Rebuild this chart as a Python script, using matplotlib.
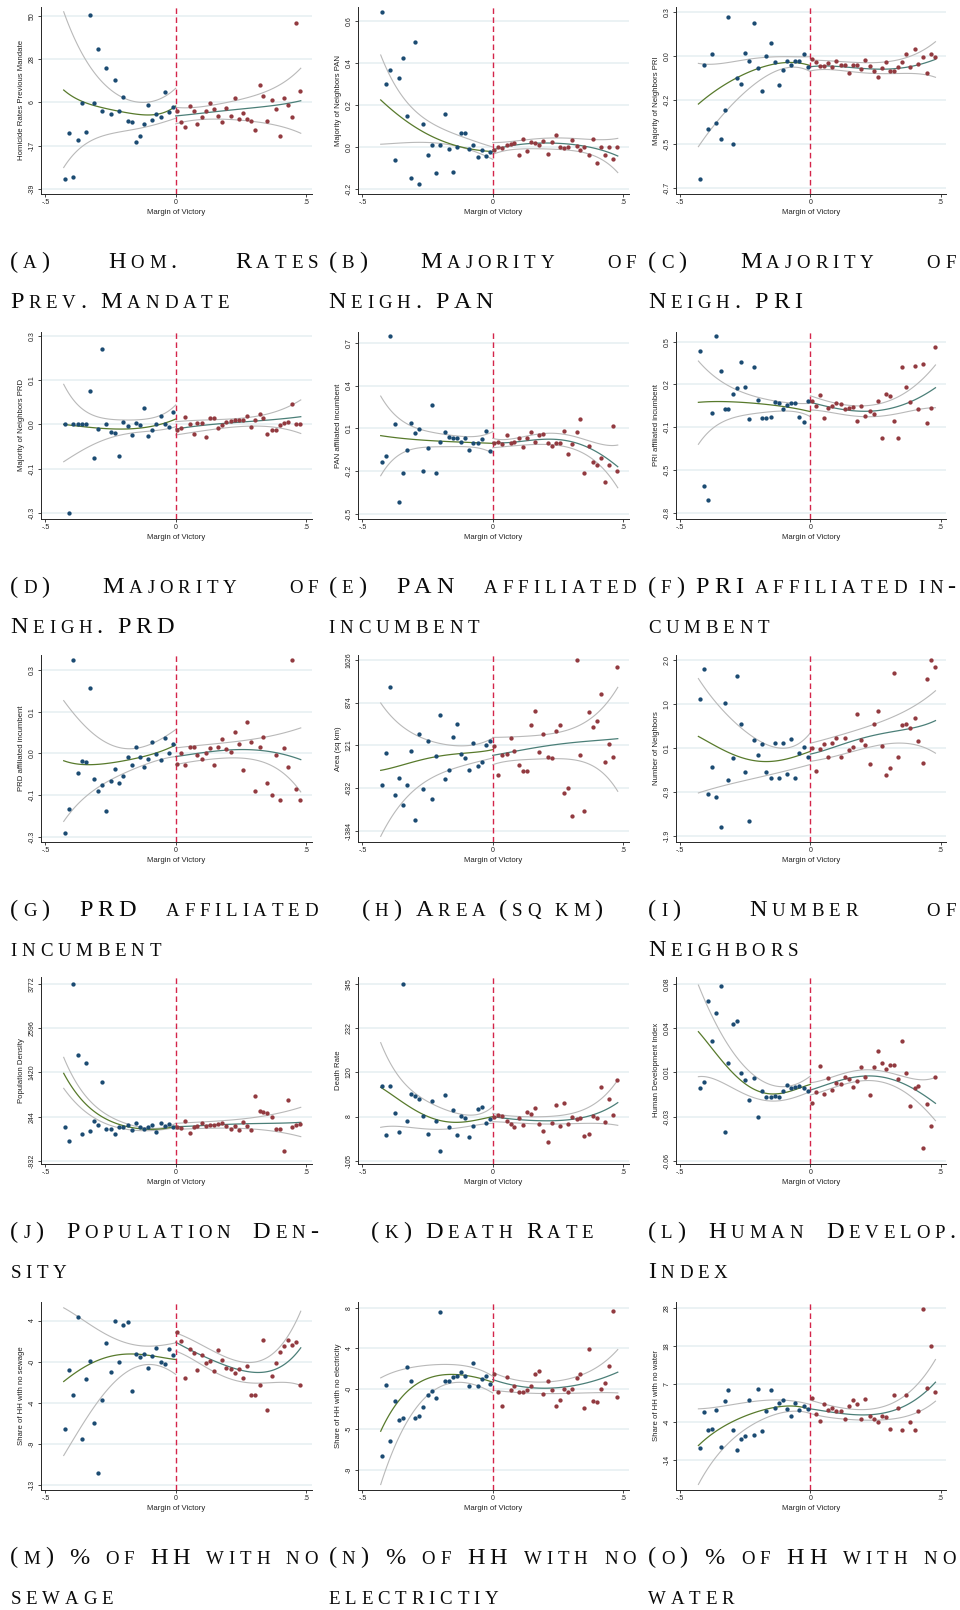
"""Binned RD scatter grid: 15 pre-treatment covariates against margin of victory,
with polynomial fits and CIs on each side of the cutoff, plus LaTeX-style
small-caps subcaptions under every panel.
"""

import numpy as np
import matplotlib
matplotlib.use("Agg")
import matplotlib.pyplot as plt

W_PX, H_PX = 960, 1610

# bin centres of the running variable (shared by every panel)
LEFT_BINS = [-0.424, -0.410, -0.394, -0.377, -0.361, -0.345, -0.329, -0.315, -0.299,
             -0.282, -0.266, -0.250, -0.234, -0.218, -0.201, -0.185, -0.169, -0.153,
             -0.137, -0.120, -0.106, -0.090, -0.074, -0.058, -0.042, -0.025, -0.009]
RIGHT_BINS = [0.005, 0.021, 0.037, 0.053, 0.069, 0.083, 0.100, 0.116, 0.132, 0.148,
              0.162, 0.178, 0.194, 0.211, 0.227, 0.243, 0.259, 0.273, 0.289, 0.306,
              0.322, 0.336, 0.352, 0.368, 0.384, 0.400, 0.414, 0.431, 0.447, 0.463, 0.479]
FIT_X_LEFT = [-0.43, -0.32, -0.21, -0.10, 0.0]
FIT_X_RIGHT = [0.0, 0.12, 0.24, 0.36, 0.48]

# (a) homicide rates previous mandate
a_blue = [-33.9, -10.4, -32.7, -14.0, 5.3, -9.6, 50.3, 5.0, 32.7, 0.9, 23.0, -0.7, 17.0, 1.0,
          8.1, -3.9, -4.8, -14.7, -11.8, -5.5, 4.0, -3.8, -0.7, -2.0, 10.8, 0.5, 3.1]
a_red = [0.9, -4.8, -7.4, 3.6, 0.9, -5.7, -1.9, 0.9, 5.1, 1.9, -1.5, -4.8, 2.7, -1.4, 7.9, -3.1,
         0.0, -3.1, -3.9, -8.7, 14.4, 8.7, -3.9, 6.7, 1.9, -12.0, 7.5, 4.0, -1.9, 46.1, 11.5]
a_fit_l, a_lo_l, a_hi_l = [11.8, 4.1, 0.7, -1.0, 3.6], [-28.0, -13.9, -9.6, -6.7, -2.7], [52.0, 22.1, 8.4, 5.7, 12.7]
a_fit_r, a_lo_r, a_hi_r = [-1.5, 0.2, 1.9, 3.6, 6.3], [-5.6, -3.2, -3.6, -5.6, -10.4], [2.9, 3.6, 6.7, 11.8, 23.0]

# (b) majority of neighbors PAN
b_blue = [0.644, 0.302, 0.365, -0.062, 0.330, 0.422, 0.148, -0.149, 0.502, -0.178, 0.111, -0.040,
          0.011, -0.125, 0.011, 0.159, -0.008, -0.120, 0.0, 0.068, 0.068, -0.008, 0.010, -0.048,
          -0.014, -0.044, -0.022]
b_red = [-0.014, 0.002, -0.005, 0.008, 0.016, 0.019, -0.036, 0.040, -0.021, 0.025, 0.018, 0.008,
         0.029, -0.035, 0.025, 0.057, 0.0, -0.005, 0.0, 0.035, 0.005, -0.014, 0.0, -0.038, 0.040,
         -0.078, 0.0, -0.038, 0.002, -0.059, 0.002]
b_fit_l, b_lo_l, b_hi_l = [0.224, 0.113, 0.037, -0.006, -0.022], [0.013, 0.021, 0.018, -0.009, -0.059], [0.438, 0.200, 0.097, 0.041, 0.0]
b_fit_r, b_lo_r, b_hi_r = [-0.014, 0.014, 0.018, 0.002, -0.043], [-0.035, -0.009, -0.011, -0.030, -0.122], [0.021, 0.033, 0.043, 0.037, 0.041]

# (c) majority of neighbors PRI
c_blue = [-0.645, 0.001, -0.365, 0.065, -0.329, -0.422, -0.257, 0.272, -0.450, -0.071, -0.107,
          0.069, 0.022, 0.241, -0.016, -0.149, 0.052, 0.126, 0.018, -0.115, -0.026, 0.022, 0.001,
          0.025, 0.025, 0.065, -0.009]
c_red = [0.033, 0.016, -0.005, -0.005, 0.010, -0.012, 0.025, -0.001, 0.001, -0.045, 0.001, -0.001,
         -0.022, 0.029, -0.005, -0.031, -0.069, -0.018, 0.016, -0.031, -0.031, -0.009, 0.018, 0.063,
         -0.012, 0.090, 0.006, 0.048, -0.047, 0.061, 0.044]
c_fit_l, c_lo_l, c_hi_l = [-0.221, -0.103, -0.024, 0.014, -0.003], [-0.463, -0.255, -0.103, -0.018, -0.037], [0.010, 0.014, 0.039, 0.048, 0.048]
c_fit_r, c_lo_r, c_hi_r = [-0.009, -0.009, -0.022, -0.014, 0.033], [-0.033, -0.031, -0.047, -0.047, -0.069], [0.029, 0.020, 0.014, 0.039, 0.133]

# (d) majority of neighbors PRD
d_blue = [0.0, -0.300, 0.0, 0.0, 0.0, 0.0, 0.113, -0.115, -0.017, 0.256, 0.0, -0.025, -0.028,
          -0.106, 0.009, -0.005, -0.036, 0.003, -0.002, 0.057, -0.040, -0.019, 0.0, 0.029, 0.0,
          -0.008, 0.041]
d_red = [-0.019, -0.014, 0.026, 0.0, -0.032, 0.003, 0.003, -0.042, 0.023, 0.021, -0.014, -0.002,
         0.007, 0.011, 0.014, 0.016, 0.016, 0.027, -0.008, 0.016, 0.034, 0.023, -0.032, -0.020,
         -0.020, -0.002, 0.003, 0.007, 0.070, 0.0, 0.0]
d_fit_l, d_lo_l, d_hi_l = [0.0, -0.011, -0.016, -0.008, 0.018], [-0.127, -0.070, -0.036, -0.023, -0.008], [0.136, 0.032, 0.015, 0.020, 0.066]
d_fit_r, d_lo_r, d_hi_r = [-0.016, -0.002, 0.007, 0.015, 0.026], [-0.036, -0.020, -0.008, -0.008, -0.031], [0.009, 0.015, 0.020, 0.037, 0.083]

# (e) PAN affiliated incumbent
e_blue = [-0.134, -0.094, 0.747, 0.128, -0.418, -0.215, -0.050, 0.135, 0.070, 0.098, -0.199,
          -0.038, 0.263, -0.211, 0.002, 0.074, 0.042, 0.035, 0.035, 0.007, 0.035, -0.050, -0.005,
          -0.005, 0.023, 0.081, -0.059]
e_red = [-0.005, 0.002, -0.010, 0.053, -0.005, 0.002, 0.030, -0.029, 0.030, 0.077, 0.002, 0.053,
         0.058, -0.005, -0.021, -0.005, -0.005, 0.081, -0.080, -0.010, 0.072, 0.165, -0.215, -0.021,
         -0.134, -0.157, -0.110, -0.278, -0.157, 0.119, -0.199]
e_fit_l, e_lo_l, e_hi_l = [0.049, 0.025, 0.011, 0.002, -0.005], [-0.232, -0.052, -0.029, -0.029, -0.075], [0.326, 0.123, 0.065, 0.042, 0.077]
e_fit_r, e_lo_r, e_hi_r = [0.002, 0.011, 0.023, -0.029, -0.169], [-0.036, -0.017, -0.017, -0.087, -0.316], [0.030, 0.042, 0.065, 0.018, -0.017]

# (f) PRI affiliated incumbent
f_blue = [0.432, -0.597, -0.701, -0.045, 0.543, 0.280, -0.014, -0.014, 0.100, 0.145, 0.343, 0.153,
          -0.090, 0.310, 0.054, -0.078, -0.078, -0.070, 0.044, 0.036, -0.012, 0.019, 0.036, 0.031,
          -0.070, -0.108, 0.049]
f_red = [0.049, 0.011, 0.095, -0.078, -0.007, 0.011, 0.036, 0.024, -0.014, -0.002, 0.006, -0.103,
         0.011, -0.063, -0.027, -0.052, 0.049, -0.230, 0.100, 0.089, -0.103, -0.230, 0.310, 0.158,
         0.039, 0.318, -0.014, 0.328, -0.121, -0.007, 0.462]
f_fit_l, f_lo_l, f_hi_l = [0.039, 0.044, 0.031, 0.006, -0.032], [-0.280, -0.095, -0.045, -0.027, -0.070], [0.353, 0.171, 0.082, 0.039, 0.031]
f_fit_r, f_lo_r, f_hi_r = [0.039, -0.014, -0.027, 0.024, 0.150], [-0.019, -0.052, -0.070, -0.037, -0.002], [0.089, 0.024, 0.019, 0.107, 0.323]

# (g) PRD affiliated incumbent
g_blue = [-0.286, -0.200, 0.336, -0.070, -0.028, -0.031, 0.235, -0.092, -0.136, -0.114, -0.208,
          -0.098, -0.056, -0.106, -0.080, -0.013, -0.040, 0.024, -0.013, -0.047, -0.019, 0.041,
          -0.002, -0.022, 0.056, 0.0, 0.033]
g_red = [-0.038, 0.0, -0.040, 0.022, 0.022, -0.007, -0.020, 0.0, 0.019, -0.043, 0.025, 0.053,
         0.017, 0.005, 0.077, 0.034, -0.058, 0.113, 0.041, -0.134, 0.022, 0.058, -0.106, -0.148,
         -0.005, -0.168, 0.019, -0.049, 0.336, -0.128, -0.166]
g_fit_l, g_lo_l, g_hi_l = [-0.026, -0.040, -0.028, -0.005, 0.031], [-0.244, -0.136, -0.076, -0.034, -0.011], [0.190, 0.074, 0.020, 0.032, 0.086]
g_fit_r, g_lo_r, g_hi_r = [-0.011, 0.005, 0.014, 0.007, -0.022], [-0.040, -0.022, -0.016, -0.040, -0.138], [0.020, 0.032, 0.044, 0.062, 0.092]

# (h) area (sq km)
h_blue = [-573, -14, 1150, -749, -455, -937, -573, 15, -1202, 321, -643, 192, -820, -61, 662,
          -473, -308, 268, 497, -32, -102, -308, 162, -249, -179, 133, 203]
h_red = [115, -396, -55, -26, 250, 27, -220, -326, -338, 474, 721, -2, 327, -91, -102, 368, 485,
         -720, -632, -1131, 1632, -44, -1031, 709, 438, 556, 1026, -179, 144, -91, 1508]
h_fit_l, h_lo_l, h_hi_l = [-320, -191, -73, -14, 45], [-1484, -749, -397, -220, -102], [868, 368, 162, 115, 250]
h_fit_r, h_lo_r, h_hi_r = [-55, 45, 133, 192, 239], [-220, -132, -114, -191, -690], [262, 280, 338, 544, 1144]

# (i) number of neighbors
i_blue = [1.145, 1.80, -0.96, -0.37, -1.04, -1.70, 1.06, -0.65, -0.17, 1.64, 0.58, -0.48, -1.55,
          0.24, -0.09, 0.14, -0.48, -0.61, 0.16, -0.61, 0.16, -0.52, 0.26, -0.61, -0.06, 0.08, -0.15]
i_red = [0.054, -0.45, 0.04, 0.14, -0.15, 0.16, 0.27, -0.15, 0.27, 0.02, 0.07, 0.81, 0.24, 0.11,
         -0.29, 0.58, 0.88, 0.09, -0.55, -0.39, 1.71, -0.15, 0.56, 0.58, 0.50, 0.72, 0.20, -0.28,
         1.59, 2.0, 1.84]
i_fit_l, i_lo_l, i_hi_l = [0.31, -0.03, -0.23, -0.20, -0.02], [-0.94, -0.76, -0.61, -0.46, -0.31], [1.59, 0.79, 0.26, 0.05, 0.39]
i_fit_r, i_lo_r, i_hi_r = [-0.08, 0.13, 0.33, 0.46, 0.66], [-0.24, -0.09, 0.09, 0.16, -0.06], [0.16, 0.35, 0.57, 0.86, 1.32]

# (j) population density
j_blue = [-21, -393, 3772, 1880, -216, 1659, -127, 138, 23, 1155, -92, -92, -216, -39, -39, 23,
          -110, 85, -39, -92, -39, 23, -154, 67, -4, 50, -21]
j_red = [-39, -65, 138, -180, -21, -4, 67, -4, 23, 23, 41, 67, -4, -92, -4, -110, 111, -4, -110,
         792, 403, 377, 332, 244, -92, -92, -658, 686, -21, 23, 50]
j_fit_l, j_lo_l, j_hi_l = [1394, 421, 23, -92, -4], [996, 244, -65, -127, -39], [1818, 598, 111, -65, 67]
j_fit_r, j_lo_r, j_hi_r = [-21, 14, 50, 67, 94], [-92, -65, -65, -127, -286], [67, 111, 173, 288, 492]

# (k) death rate
k_blue = [85.2, -39.6, 85.2, 17.3, -31.1, 345.0, -3.1, 64.8, 59.7, 51.3, 8.8, -37.1, 47.0, -3.1,
          -79.5, 62.3, -20.1, 24.1, -39.6, 9.6, 4.6, -45.5, -16.7, 25.8, 32.6, -9.9, 1.2]
k_red = [7.1, 11.4, 8.8, -3.1, -11.6, -20.1, 4.6, -14.1, 19.8, 13.9, 30.0, -11.6, -28.6, -58.3,
         -8.2, 36.8, -16.7, 41.1, -11.6, 7.1, 1.2, 2.9, -42.1, -37.9, 8.8, 2.9, 81.8, -7.3, 51.3,
         11.4, 100.5]
k_fit_l, k_lo_l, k_hi_l = [81.8, 32.6, -1.4, -5.6, 7.1], [-20.1, -20.1, -25.2, -18.4, -9.9], [195.6, 79.3, 32.6, 11.4, 32.6]
k_fit_r, k_lo_r, k_hi_r = [7.1, -1.4, -3.1, 7.1, 42.8], [-5.6, -9.9, -11.6, -9.9, -15.0], [15.6, 7.1, 8.8, 28.3, 100.5]

# (l) human development index
l_blue = [-0.0025, 0.0027, 0.0666, 0.0352, 0.0573, 0.0784, -0.0368, 0.0172, 0.0484, 0.0510,
          0.0093, 0.0041, -0.0118, 0.0054, -0.0250, -0.0044, -0.0097, -0.0091, -0.0086, -0.0097,
          -0.0044, 0.0001, -0.0025, -0.0017, -0.0007, -0.0025, -0.0044]
l_red = [-0.0139, -0.0052, 0.0151, -0.0070, 0.0054, -0.0039, 0.0019, 0.0009, 0.0062, 0.0046,
         -0.0012, 0.0035, 0.0141, 0.0062, -0.0078, 0.0141, 0.0273, 0.0178, 0.0125, 0.0159, 0.0159,
         0.0046, 0.0352, 0.0093, -0.0165, -0.0025, -0.0007, -0.0495, -0.0149, -0.0323, 0.0062]
l_fit_l, l_lo_l, l_hi_l = [0.0423, 0.0146, -0.0039, -0.0060, 0.0006], [0.0067, 0.0001, -0.0104, -0.0118, -0.0052], [0.0792, 0.0331, 0.0067, -0.0012, 0.0072]
l_fit_r, l_lo_r, l_hi_r = [-0.0039, 0.0041, 0.0072, 0.0009, -0.0144], [-0.0078, 0.0001, 0.0035, -0.0052, -0.0281], [0.0019, 0.0088, 0.0120, 0.0067, 0.0062]

# (m) share of HH with no sewage
m_blue = [-7.25, -1.13, -3.74, 4.34, -8.28, -2.02, -0.20, -6.63, -11.73, -4.22, 1.63, -1.30, 4.00,
          -0.27, 3.52, 3.83, -3.30, 0.56, 0.21, 0.56, -0.92, 0.32, 1.11, -0.30, -0.54, 1.01, 0.42]
m_red = [2.80, 1.87, -1.92, 1.01, 0.66, -1.13, 0.39, -0.37, -0.20, -1.26, 0.94, -0.09, -0.89,
         -0.99, -1.40, -0.99, -1.92, -0.65, -3.67, -3.67, -2.64, 1.94, -5.26, -1.75, -0.37, 0.73,
         1.35, 1.94, 1.52, 1.76, -2.71]
m_fit_l, m_lo_l, m_hi_l = [-2.30, -0.37, 0.49, 0.39, -0.03], [-9.94, -5.19, -1.75, -0.54, -1.57], [5.31, 3.42, 1.87, 1.35, 1.69]
m_fit_r, m_lo_r, m_hi_r = [1.76, 0.15, -1.06, -1.23, 1.18], [0.83, -0.89, -2.26, -2.43, -2.71], [2.73, 1.18, -0.20, 0.32, 4.96]

# (n) share of HH with no electricity
n_blue = [-7.60, -0.06, -6.02, -1.81, -3.74, -3.57, 1.80, 0.29, -3.57, -3.39, -2.41, -1.11, -0.76,
          -1.50, 7.54, 0.29, 0.29, 0.74, 0.81, 1.24, 0.88, -0.24, 2.22, -0.24, 0.53, 0.88, 0.04]
n_red = [1.10, -0.87, -2.27, 0.74, -0.59, -0.24, -0.87, -0.87, -0.66, -0.17, 1.10, 1.34, -1.01,
         0.32, -0.59, -2.27, -1.64, -0.48, -0.87, -0.48, 0.64, 1.06, -2.52, 3.69, -1.74, -1.92,
         -0.52, 0.11, 1.87, 7.65, -1.36]
n_fit_l, n_lo_l, n_hi_l = [-4.97, -0.59, 0.88, 0.88, 0.18], [-10.58, -3.57, -0.41, 0.11, -0.94], [0.64, 1.69, 2.04, 1.87, 0.81]
n_fit_r, n_lo_r, n_hi_r = [0.46, -0.31, -0.41, 0.11, 1.24], [-0.66, -0.94, -1.01, -0.94, -0.94], [1.24, 0.29, 0.29, 1.17, 3.62]

# (o) share of HH with no water
o_blue = [-10.59, -0.74, -5.71, -5.34, -0.18, -10.31, 2.30, 5.53, -5.71, -11.05, -8.10, -7.18,
          2.58, -6.91, 5.71, -5.98, -0.46, 5.53, 0.46, 1.84, 2.58, 0.19, -1.66, 1.84, -0.18, 1.11, 0.19]
o_red = [3.13, -1.10, -3.22, 1.66, -0.18, 0.46, -0.46, -0.46, -2.58, 1.11, 2.58, 1.66, -2.58,
         2.95, -1.66, -2.58, -3.50, -1.66, -2.02, -5.34, 4.15, 0.46, -5.52, 4.15, -3.50, -5.52,
         -0.46, 27.8, 5.99, 17.68, 4.79]
o_fit_l, o_lo_l, o_hi_l = [-9.95, -4.14, -0.74, 0.92, 0.0], [-20.7, -9.67, -3.68, -0.74, -1.10], [0.19, 1.11, 2.30, 2.58, 1.38]
o_fit_r, o_lo_r, o_hi_r = [0.19, -1.10, -1.38, 0.92, 7.55], [-1.10, -2.58, -2.95, -2.02, 2.30], [2.58, 0.46, 0.19, 3.69, 13.82]

YLABELS = ["Homicide Rates Previous Mandate", "Majority of Neighbors PAN", "Majority of Neighbors PRI",
           "Majority of Neighbors PRD", "PAN affiliated incumbent", "PRI affiliated incumbent",
           "PRD affiliated incumbent", "Area (sq km)", "Number of Neighbors",
           "Population Density", "Death Rate", "Human Development Index",
           "Share of HH with no sewage", "Share of HH with no electricity", "Share of HH with no water"]

YTICKLABELS = [["-39", "-17", "6", "28", "50"], ["-0.2", "0.0", "0.2", "0.4", "0.6"],
               ["-0.7", "-0.5", "-0.2", "0.0", "0.3"], ["-0.3", "-0.1", "0.0", "0.1", "0.3"],
               ["-0.5", "-0.2", "0.1", "0.4", "0.7"], ["-0.8", "-0.5", "-0.1", "0.2", "0.5"],
               ["-0.3", "-0.1", "0.0", "0.1", "0.3"], ["-1384", "-632", "121", "874", "1626"],
               ["-1.9", "-0.9", "0.1", "1.0", "2.0"], ["-932", "244", "1420", "2596", "3772"],
               ["-105", "8", "120", "232", "345"], ["-0.06", "-0.03", "0.01", "0.04", "0.08"],
               ["-13", "-9", "-4", "-0", "4"], ["-9", "-5", "-0", "4", "8"],
               ["-14", "-4", "7", "18", "28"]]
# first / last tick value (ticks are evenly spaced between them)
YTICK_RANGE = [(-39, 50), (-0.2, 0.6), (-0.7, 0.3), (-0.3, 0.3), (-0.5, 0.7), (-0.8, 0.5),
               (-0.3, 0.3), (-1384, 1626), (-1.9, 2.0), (-932, 3772), (-105, 345), (-0.06, 0.08),
               (-13, 4), (-9, 8), (-14, 28)]
YLIMS = [(-41.6, 54.6), (-0.224, 0.668), (-0.732, 0.332), (-0.3215, 0.3147), (-0.535, 0.777),
         (-0.848, 0.576), (-0.318, 0.355), (-1584, 1720), (-2.025, 2.118), (-1012, 3958),
         (-113.5, 363.7), (-0.0624, 0.0858), (-13.45, 5.89), (-11.1, 8.6), (-22.1, 29.66)]

CAPTIONS = [["(a) Hom. Rates", "Prev. Mandate"], ["(b) Majority of", "Neigh. PAN"],
            ["(c) Majority of", "Neigh. PRI"], ["(d) Majority of", "Neigh. PRD"],
            ["(e) PAN affiliated", "incumbent"], ["(f) PRI affiliated in-", "cumbent"],
            ["(g) PRD affiliated", "incumbent"], ["(h) Area (sq km)"],
            ["(i) Number of", "Neighbors"], ["(j) Population Den-", "sity"],
            ["(k) Death Rate"], ["(l) Human Develop.", "Index"],
            ["(m) % of HH with no", "sewage"], ["(n) % of HH with no", "electrictiy"],
            ["(o) % of HH with no", "water"]]

SERIES = [
    (a_blue, a_red, (a_fit_l, a_lo_l, a_hi_l), (a_fit_r, a_lo_r, a_hi_r)),
    (b_blue, b_red, (b_fit_l, b_lo_l, b_hi_l), (b_fit_r, b_lo_r, b_hi_r)),
    (c_blue, c_red, (c_fit_l, c_lo_l, c_hi_l), (c_fit_r, c_lo_r, c_hi_r)),
    (d_blue, d_red, (d_fit_l, d_lo_l, d_hi_l), (d_fit_r, d_lo_r, d_hi_r)),
    (e_blue, e_red, (e_fit_l, e_lo_l, e_hi_l), (e_fit_r, e_lo_r, e_hi_r)),
    (f_blue, f_red, (f_fit_l, f_lo_l, f_hi_l), (f_fit_r, f_lo_r, f_hi_r)),
    (g_blue, g_red, (g_fit_l, g_lo_l, g_hi_l), (g_fit_r, g_lo_r, g_hi_r)),
    (h_blue, h_red, (h_fit_l, h_lo_l, h_hi_l), (h_fit_r, h_lo_r, h_hi_r)),
    (i_blue, i_red, (i_fit_l, i_lo_l, i_hi_l), (i_fit_r, i_lo_r, i_hi_r)),
    (j_blue, j_red, (j_fit_l, j_lo_l, j_hi_l), (j_fit_r, j_lo_r, j_hi_r)),
    (k_blue, k_red, (k_fit_l, k_lo_l, k_hi_l), (k_fit_r, k_lo_r, k_hi_r)),
    (l_blue, l_red, (l_fit_l, l_lo_l, l_hi_l), (l_fit_r, l_lo_r, l_hi_r)),
    (m_blue, m_red, (m_fit_l, m_lo_l, m_hi_l), (m_fit_r, m_lo_r, m_hi_r)),
    (n_blue, n_red, (n_fit_l, n_lo_l, n_hi_l), (n_fit_r, n_lo_r, n_hi_r)),
    (o_blue, o_red, (o_fit_l, o_lo_l, o_hi_l), (o_fit_r, o_lo_r, o_hi_r)),
]

# layout in pixels of the 960x1610 canvas
COL_AX_LEFT = [41.3, 358.3, 676.0]
AX_W, AX_H = 270.4, 187.3
ROW_OFF = [0.0, 325.0, 648.0, 970.0, 1295.5]
AX_TOP = 6.7
CAP_X0 = [10.3, 328.6, 648.0]
CAP_W = 307.5
CAP_BASE1, CAP_BASE2 = 268.0, 308.0

BLUE, RED = "#1b4b72", "#923a40"
GREEN, TEAL, CI_GREY = "#587a2c", "#4b7f78", "#b9b9b9"
VLINE, GRID, SPINE = "#d4254a", "#e6eff1", "#262626"

SERIF = ["Liberation Serif", "DejaVu Serif"]
BIG, SMALL = 17.5, 13.6      # pt, capitals / small capitals
TRACK, SPACE = 4.8, 14.0     # px, letter spacing / word space


def smooth(xs, ys):
    """Smooth polynomial through the curve readings (the source plots polynomial fits)."""
    coef = np.polyfit(xs, ys, len(xs) - 1)
    xx = np.linspace(xs[0], xs[-1], 100)
    return xx, np.polyval(coef, xx)


def draw_caption(fig, renderer, lines, x0, base_y, centred):
    """Small-caps caption: lowercase letters drawn as smaller capitals."""
    for k, line in enumerate(lines):
        y = 1 - (base_y + k * (CAP_BASE2 - CAP_BASE1)) / H_PX
        words = []
        for word in line.split(" "):
            pieces = []
            for ch in word:
                small = ch.islower()
                t = fig.text(0, y, ch.upper(), fontsize=SMALL if small else BIG,
                             family=SERIF, ha="left", va="baseline", color="#0a0a0a")
                pieces.append((t, t.get_window_extent(renderer).width))
            words.append(pieces)
        widths = [sum(w for _, w in p) + TRACK * (len(p) - 1) for p in words]
        if not centred and k == 0 and len(lines) > 1 and len(words) > 1:
            gap = (CAP_W - sum(widths)) / (len(words) - 1)      # justified
            x = x0
        else:
            gap = SPACE
            total = sum(widths) + gap * (len(words) - 1)
            x = x0 + (CAP_W - total) / 2 if centred else x0
        for pieces, wd in zip(words, widths):
            xx = x
            for t, w in pieces:
                t.set_x(xx / W_PX)
                xx += w + TRACK
            x += wd + gap


def main():
    plt.rcParams["font.family"] = ["Liberation Sans", "DejaVu Sans"]
    fig = plt.figure(figsize=(W_PX / 100, H_PX / 100), dpi=100)
    fig.patch.set_facecolor("white")

    for idx, (blue, red, left_fit, right_fit) in enumerate(SERIES):
        r, c = divmod(idx, 3)
        top = ROW_OFF[r] + AX_TOP
        ax = fig.add_axes([COL_AX_LEFT[c] / W_PX, 1 - (top + AX_H) / H_PX,
                           AX_W / W_PX, AX_H / H_PX])

        lo, hi = YTICK_RANGE[idx]
        ax.set_yticks(np.linspace(lo, hi, 5))
        ax.set_yticklabels(YTICKLABELS[idx], rotation=90, va="center")
        ax.set_ylim(*YLIMS[idx])
        ax.set_xlim(-0.516, 0.522)
        ax.set_xticks([-0.5, 0, 0.5])
        ax.set_xticklabels(["-.5", "0", ".5"])

        ax.set_axisbelow(True)
        ax.yaxis.grid(True, color=GRID, lw=1.1)
        for s in ("top", "right"):
            ax.spines[s].set_visible(False)
        for s in ("left", "bottom"):
            ax.spines[s].set_color(SPINE)
            ax.spines[s].set_linewidth(0.7)
        ax.tick_params(direction="out", length=2.4, width=0.6, color=SPINE,
                       labelsize=5, pad=1.5, labelcolor="#222222")
        ax.set_xlabel("Margin of Victory", fontsize=5.6, labelpad=2, color="#222222")
        ax.set_ylabel(YLABELS[idx], fontsize=5.6, labelpad=2.5, color="#222222")

        # CI bounds and fits on each side of the cutoff
        for xs, (fit, lo_ci, hi_ci), col in ((FIT_X_LEFT, left_fit, GREEN),
                                              (FIT_X_RIGHT, right_fit, TEAL)):
            for band in (lo_ci, hi_ci):
                ax.plot(*smooth(xs, band), color=CI_GREY, lw=0.8, zorder=2)
            ax.plot(*smooth(xs, fit), color=col, lw=0.9, zorder=2.2)

        ax.axvline(0, color=VLINE, lw=1.0, ls=(0, (4, 2.5)), zorder=2.5)
        ax.plot(LEFT_BINS, blue, "o", ms=3.1, color=BLUE, mec="none", zorder=3)
        ax.plot(RIGHT_BINS, red, "o", ms=3.1, color=RED, mec="none", zorder=3)

    renderer = fig.canvas.get_renderer()
    for idx, lines in enumerate(CAPTIONS):
        r, c = divmod(idx, 3)
        draw_caption(fig, renderer, lines, CAP_X0[c], ROW_OFF[r] + CAP_BASE1,
                     centred=(len(lines) == 1))

    fig.savefig("out.png", dpi=100, facecolor="white")
    plt.close(fig)


if __name__ == "__main__":
    main()
